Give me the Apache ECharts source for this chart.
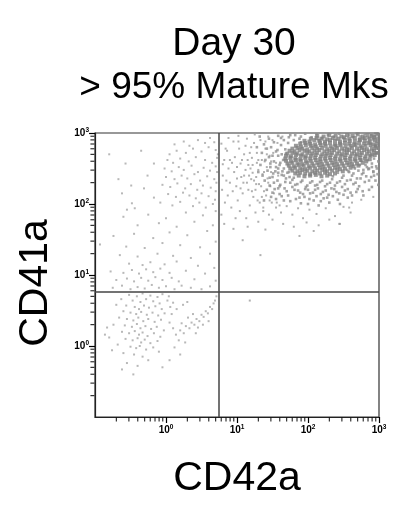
<!DOCTYPE html>
<html><head><meta charset="utf-8">
<script src="https://cdn.jsdelivr.net/npm/echarts@6/dist/echarts.min.js"></script>
<style>html,body{margin:0;padding:0;background:#fff}#c{width:394px;height:505px}</style>
</head><body><div id="c"></div>
<script>
const titleText = 'Day 30';
const subtitleText = '> 95% Mature Mks';
const xAxisName = 'CD42a';
const yAxisName = 'CD41a';
const labeledDecades = [0, 1, 2, 3];
const minorMultipliers = [2, 3, 4, 5, 6, 7, 8, 9];
const gateCD42a = 5.5;
const gateCD41a = 5.8;

// events as [log10 CD42a, log10 CD41a]
const lowLeftPts = [
[-0.52,0.72],[-0.41,0.70],[-0.33,0.74],[-0.22,0.71],[-0.12,0.69],[-0.05,0.73],[0.04,0.70],[-0.63,0.66],[-0.47,0.64],[-0.36,0.62],[-0.28,0.66],[-0.18,0.63],[-0.09,0.60],[0.02,0.64],[0.10,0.61],
[-0.70,0.58],[-0.56,0.57],[-0.44,0.55],[-0.38,0.52],[-0.31,0.57],[-0.24,0.54],[-0.15,0.56],[-0.06,0.52],[0.06,0.55],
[-0.60,0.49],[-0.50,0.47],[-0.42,0.45],[-0.35,0.48],[-0.27,0.44],[-0.19,0.47],[-0.11,0.43],[-0.02,0.46],
[-0.66,0.40],[-0.55,0.38],[-0.46,0.36],[-0.39,0.40],[-0.32,0.35],[-0.25,0.38],[-0.16,0.34],[-0.07,0.37],[0.05,0.33],
[-0.74,0.30],[-0.58,0.29],[-0.48,0.27],[-0.41,0.31],[-0.36,0.25],[-0.29,0.28],[-0.21,0.24],[-0.13,0.27],[-0.03,0.22],
[-0.62,0.20],[-0.52,0.18],[-0.44,0.21],[-0.38,0.16],[-0.33,0.19],[-0.26,0.14],[-0.17,0.18],[-0.08,0.13],
[-0.80,0.12],[-0.57,0.10],[-0.47,0.08],[-0.40,0.11],[-0.35,0.05],[-0.30,0.09],[-0.22,0.04],[-0.12,0.07],
[-0.68,0.02],[-0.50,-0.01],[-0.42,-0.03],[-0.37,0.00],[-0.28,-0.05],[-0.18,-0.02],
[-0.86,0.16],[-0.83,0.26],[-0.76,-0.06],[-0.60,-0.10],[-0.45,-0.12],[-0.33,-0.15],[-0.55,-0.24],[-0.40,-0.28],[-0.62,-0.33],[-0.46,-0.40],[-0.25,-0.20],[-0.10,-0.08],
[0.14,0.16],[0.20,0.22],[0.25,0.18],[0.28,0.28],[0.33,0.25],[0.36,0.33],[0.40,0.30],[0.43,0.38],[0.47,0.35],[0.50,0.44],[0.53,0.41],[0.56,0.49],[0.59,0.46],[0.62,0.55],[0.65,0.52],[0.67,0.60],[0.69,0.64],[0.71,0.70],
[0.31,0.40],[0.38,0.45],[0.45,0.26],[0.22,0.32],[0.18,0.08],[0.27,0.05],[0.42,0.18],[0.52,0.30],[0.60,0.35],[0.10,0.25],[0.08,0.45],[0.15,0.52],[0.24,0.58],[0.30,0.62],[0.12,-0.02],[0.20,-0.12],[0.05,-0.20],[-0.05,-0.30],
[-0.75,0.82],[-0.62,0.85],[-0.50,0.80],[-0.40,0.83],[-0.30,0.81],[-0.20,0.86],[-0.10,0.82],[0.00,0.84],[0.12,0.80],[0.22,0.85],[0.35,0.82],[0.50,0.80],[0.62,0.84],
[-0.70,0.93],[-0.55,0.95],[-0.45,0.91],[-0.35,0.96],[-0.25,0.92],[-0.15,0.97],[-0.05,0.93],[0.08,0.96],[0.18,0.91],[0.40,0.94],[0.70,0.92],
[-0.78,1.05],[-0.60,1.03],[-0.48,1.07],[-0.38,1.02],[-0.28,1.08],[-0.18,1.04],[-0.08,1.09],[0.05,1.03],[0.28,1.06],[0.55,1.02],
[-0.52,1.16],[-0.33,1.14],[-0.22,1.18],[-0.02,1.15],[0.15,1.19],[0.45,1.13],[0.68,1.10],
[-0.65,1.28],[-0.40,1.26],[-0.12,1.30],[0.10,1.27],[0.35,1.24],[0.62,1.30],
[-0.93,1.43],[-0.56,1.40],[-0.30,1.38],[-0.05,1.45],[0.20,1.42],[0.48,1.39],[0.70,1.47],
[-0.74,1.55],[-0.45,1.58],[-0.18,1.52],[0.05,1.60],[0.30,1.56],[0.58,1.62],
[-0.40,1.70],[-0.10,1.73],[0.15,1.68],[0.40,1.75],[0.66,1.70],
[-0.60,1.82],[-0.25,1.85],[0.00,1.80],[0.28,1.88],[0.52,1.84],[0.70,1.90]
];
const upLeftPts = [
[-0.67,2.35],[-0.57,2.57],[-0.17,2.57],[-0.49,2.26],[-0.26,2.40],[-0.31,2.22],[-0.17,2.09],[-0.48,2.01],[-0.55,1.92],[-0.44,1.94],[-0.80,2.70],[-0.62,2.15],[-0.35,2.75],
[0.05,2.70],[0.15,2.75],[0.28,2.72],[0.38,2.78],[0.50,2.74],[0.60,2.80],[0.70,2.76],
[0.02,2.62],[0.10,2.58],[0.20,2.64],[0.32,2.60],[0.42,2.66],[0.55,2.62],[0.65,2.58],[0.72,2.65],
[-0.02,2.50],[0.08,2.46],[0.18,2.52],[0.25,2.48],[0.36,2.54],[0.45,2.45],[0.53,2.51],[0.62,2.47],[0.70,2.53],
[0.00,2.38],[0.12,2.35],[0.22,2.40],[0.30,2.36],[0.40,2.42],[0.48,2.33],[0.58,2.39],[0.68,2.35],
[-0.05,2.27],[0.06,2.24],[0.16,2.29],[0.27,2.22],[0.35,2.28],[0.44,2.20],[0.52,2.26],[0.63,2.23],[0.71,2.30],
[0.03,2.14],[0.14,2.10],[0.24,2.16],[0.33,2.12],[0.42,2.08],[0.50,2.15],[0.60,2.11],[0.69,2.06],
[-0.08,2.02],[0.09,1.98],[0.20,2.03],[0.38,1.97],[0.47,2.02],[0.56,1.95],[0.66,2.00],
[0.25,2.88],[0.45,2.90],[0.62,2.93],[0.12,2.84],[0.55,2.86],[0.33,2.82],[0.68,2.87],[0.72,2.45],[0.70,2.18],[0.73,2.70]
];
const upRightSparsePts = [
[0.78,2.85],[0.82,2.62],[0.80,2.40],[0.79,2.20],[0.83,2.02],[0.78,1.85],[0.86,2.75],[0.88,2.50],[0.90,2.30],[0.87,2.12],[0.92,1.95],[0.95,2.88],[0.97,2.66],[0.96,2.45],[0.99,2.25],[1.01,2.05],[0.98,1.80],[1.03,2.78],[1.05,2.57],[1.06,2.38],[1.08,2.15],[1.04,1.90],[1.10,2.70],[1.12,2.48],[1.09,2.30],[0.80,2.56],[0.93,2.58],[1.00,2.52],[0.85,2.33],[0.94,2.18],
[1.14,2.92],[1.15,2.62],[1.17,2.40],[1.16,2.20],[1.18,1.98],[1.13,1.80],[1.20,2.80],[1.22,2.55],[1.24,2.33],[1.23,2.10],[1.26,1.88],[1.28,2.72],[1.30,2.48],[1.31,2.28],[1.29,2.05],[1.33,2.90],[1.35,2.62],[1.36,2.42],[1.38,2.18],[1.37,1.95],[1.40,2.78],[1.42,2.52],[1.43,2.36],[1.41,2.12],[1.45,1.85],[1.46,2.68],[1.48,2.45],[1.47,2.25],[1.49,2.02],[1.21,2.65],[1.27,2.38],[1.34,2.25],[1.39,2.60],[1.44,2.95],[1.25,2.98],[1.19,2.50],[1.32,2.02],
[1.50,2.90],[1.55,2.58],[1.58,2.40],[1.52,2.15],[1.56,2.02],[1.42,2.70],[1.38,2.45],[1.35,2.10],[1.44,2.30],[1.51,2.72],[1.57,2.86],[1.64,2.95],[1.40,2.88],[1.30,2.62],[1.26,2.20],[1.20,2.35],[1.48,2.60],[1.46,2.05],[1.60,1.98],[1.37,1.90],
[1.55,1.95],[1.62,1.88],[1.70,1.97],[1.78,1.85],[1.86,1.94],[1.93,1.80],[2.02,1.92],[2.12,1.86],[2.25,1.94],[2.38,1.83],[2.50,1.96],[2.62,2.02],[2.75,2.06],[2.92,2.10],[1.50,1.78],[1.65,1.72],[1.80,1.68],[1.98,1.74],[2.15,1.70],[2.30,1.78],[2.45,1.72],[1.30,1.75],[1.15,1.68],[0.95,1.65],[0.82,1.72],[1.40,1.64],[2.08,1.62],[2.60,1.88],
[1.02,2.88],[1.07,2.62],[1.12,2.82],[1.18,2.72],[1.24,2.86],[1.10,2.40],[1.16,2.55],[1.22,2.44],[1.28,2.58],[1.05,2.22],[1.14,2.30],[1.21,2.18],[1.27,2.28],[1.00,2.36],[0.90,2.62],[0.84,2.78],[1.02,2.96],[0.88,2.93],
[1.08,1.49],[1.33,1.28],[1.88,1.55],[2.44,1.72],[1.18,0.64],[2.58,1.95]
];
const upRightShellPts = [
[1.62,2.93],[1.75,2.97],[1.88,2.92],[1.96,2.99],[2.05,2.94],[2.12,2.98],[2.20,2.93],[2.28,2.97],[2.36,2.95],[2.44,2.99],[2.50,2.93],[2.58,2.97],[2.63,2.94],[2.69,2.99],[2.74,2.95],[2.80,2.98],[2.85,2.93],[2.89,2.97],[2.94,2.95],[2.98,2.99],[2.92,2.91],[2.97,2.88],[2.78,2.92],[2.40,2.91],[2.15,2.90],
[2.88,2.85],[2.95,2.82],[2.99,2.78],[2.91,2.75],[2.97,2.72],[2.87,2.68],[2.93,2.64],[2.99,2.60],[2.90,2.57],[2.96,2.53],[2.86,2.50],[2.92,2.46],[2.98,2.42],[2.89,2.38],[2.95,2.33],[2.99,2.27],[2.84,2.62],[2.81,2.55],[2.78,2.48],
[1.48,2.80],[1.55,2.74],[1.62,2.83],[1.68,2.77],[1.45,2.66],[1.52,2.60],[1.58,2.68],[1.65,2.62],[1.69,2.71],[1.47,2.52],[1.54,2.46],[1.60,2.55],[1.66,2.50],[1.71,2.44],[1.50,2.38],[1.57,2.33],[1.63,2.41],[1.69,2.36],[1.75,2.30],[1.46,2.26],[1.53,2.21],[1.61,2.27],[1.67,2.22],[1.74,2.38],[1.72,2.86],[1.80,2.90],[1.90,2.87],
[1.78,2.34],[1.85,2.28],[1.92,2.33],[1.99,2.26],[2.06,2.32],[2.13,2.27],[2.20,2.33],[2.27,2.28],[2.34,2.35],[2.41,2.30],[2.48,2.37],[2.55,2.33],[2.62,2.40],[2.69,2.36],[2.76,2.42],[2.82,2.39],[1.81,2.20],[1.89,2.16],[1.96,2.21],[2.03,2.15],[2.10,2.20],[2.18,2.14],[2.25,2.19],[2.33,2.22],[2.40,2.17],[2.48,2.24],[2.56,2.21],[2.64,2.28],[2.72,2.25],[2.80,2.31],[2.58,2.45],[2.66,2.50],[2.73,2.55],[2.75,2.61],[2.55,2.48],
[1.72,2.12],[1.83,2.07],[1.95,2.10],[2.08,2.05],[2.22,2.08],[2.35,2.11],[2.50,2.13],[2.68,2.17],[2.86,2.20],[1.60,2.14],[1.66,2.05],[2.00,2.00],[2.15,1.98],[2.30,2.02],
[1.58,2.44],[1.66,2.40],[1.73,2.45],[1.80,2.37],[2.35,2.39],[2.42,2.44],[2.50,2.40],[2.57,2.46],[2.64,2.43],[2.71,2.47],[2.78,2.44],[2.85,2.49],[2.92,2.45],[2.97,2.50],[2.90,2.52],[2.83,2.52],
[1.52,2.30],[1.60,2.25],[1.68,2.31],[1.82,2.27],[1.90,2.31],[1.97,2.24],[2.03,2.30],[2.10,2.26],[2.17,2.31],[2.24,2.25],[2.31,2.30],[2.38,2.26],[2.45,2.32],[2.52,2.28],[2.60,2.34],[2.67,2.30],[2.74,2.36],[2.86,2.33],[2.93,2.40],
[1.42,2.20],[1.50,2.16],[1.58,2.22],[1.70,2.18],[1.78,2.24],[1.86,2.19],[1.93,2.14],[2.00,2.20],[2.07,2.16],[2.14,2.22],[2.21,2.17],[2.29,2.13],[2.37,2.21],[2.44,2.15],[2.52,2.19],[2.60,2.16],[2.70,2.21],[2.77,2.18],[2.90,2.24],
[1.38,2.05],[1.48,2.10],[1.55,2.07],[1.63,2.11],[1.75,2.04],[1.88,2.09],[2.02,2.07],[2.12,2.11],[2.18,2.04],[2.27,2.09],[2.42,2.06],[2.56,2.09],[2.62,2.12],[2.78,2.12],[1.90,2.01],[2.45,2.00],
[1.32,2.95],[1.38,2.84],[1.45,2.92],[1.52,2.87],[1.58,2.96],[1.66,2.90],[1.73,2.94],[1.82,2.97],[1.90,2.95],[1.35,2.72],[1.42,2.78],[1.50,2.68],[1.57,2.76],[1.63,2.70],[1.33,2.55],[1.40,2.62],[1.47,2.57],[1.55,2.52],[1.61,2.58],[1.36,2.40],[1.43,2.47],[1.51,2.43],[1.58,2.50],[1.64,2.46],[1.39,2.33],[1.46,2.37],[1.30,2.45],[1.28,2.80]
];
const upRightCorePts = [
[2.13,2.96],[2.22,2.95],[2.30,2.97],[2.39,2.96],[2.47,2.95],[2.55,2.97],[2.63,2.96],[2.70,2.98],[2.77,2.95],[2.84,2.97],[2.90,2.96],[2.96,2.98],
[2.04,2.92],[2.12,2.93],[2.19,2.92],[2.27,2.91],[2.35,2.93],[2.43,2.92],[2.51,2.94],[2.58,2.92],[2.66,2.93],[2.73,2.91],[2.80,2.93],[2.87,2.92],[2.93,2.94],[2.98,2.92],
[1.95,2.89],[2.02,2.88],[2.09,2.90],[2.16,2.89],[2.24,2.88],[2.31,2.90],[2.38,2.89],[2.45,2.88],[2.52,2.90],[2.59,2.89],[2.66,2.88],[2.73,2.90],[2.80,2.89],[2.87,2.88],[2.94,2.90],
[1.89,2.85],[1.96,2.86],[2.03,2.85],[2.10,2.84],[2.17,2.86],[2.24,2.85],[2.31,2.86],[2.38,2.84],[2.45,2.85],[2.52,2.86],[2.58,2.85],[2.65,2.84],[2.72,2.86],[2.79,2.85],[2.85,2.86],[2.92,2.84],[2.97,2.85],
[1.83,2.82],[1.90,2.81],[1.97,2.83],[2.04,2.82],[2.11,2.81],[2.18,2.83],[2.25,2.82],[2.32,2.81],[2.39,2.82],[2.46,2.83],[2.53,2.81],[2.60,2.82],[2.67,2.83],[2.74,2.81],[2.81,2.82],[2.88,2.83],[2.95,2.81],
[1.78,2.78],[1.85,2.79],[1.92,2.78],[1.99,2.77],[2.06,2.79],[2.13,2.78],[2.20,2.79],[2.27,2.77],[2.34,2.78],[2.41,2.79],[2.48,2.78],[2.55,2.77],[2.62,2.79],[2.69,2.78],[2.76,2.79],[2.83,2.77],[2.90,2.78],[2.96,2.79],
[1.74,2.75],[1.81,2.74],[1.88,2.76],[1.95,2.75],[2.02,2.74],[2.09,2.75],[2.16,2.76],[2.23,2.74],[2.30,2.75],[2.37,2.76],[2.44,2.74],[2.51,2.75],[2.58,2.76],[2.65,2.74],[2.72,2.75],[2.79,2.76],[2.86,2.74],[2.93,2.75],
[1.71,2.71],[1.78,2.72],[1.85,2.71],[1.92,2.70],[1.99,2.72],[2.06,2.71],[2.13,2.72],[2.20,2.70],[2.27,2.71],[2.34,2.72],[2.41,2.71],[2.48,2.70],[2.55,2.72],[2.62,2.71],[2.69,2.70],[2.76,2.72],[2.83,2.71],[2.90,2.70],[2.96,2.72],
[1.69,2.68],[1.76,2.67],[1.83,2.69],[1.90,2.68],[1.97,2.67],[2.04,2.68],[2.11,2.69],[2.18,2.67],[2.25,2.68],[2.32,2.69],[2.39,2.67],[2.46,2.68],[2.53,2.69],[2.60,2.67],[2.67,2.68],[2.74,2.69],[2.81,2.67],[2.88,2.68],[2.94,2.69],
[1.68,2.64],[1.75,2.65],[1.82,2.64],[1.89,2.63],[1.96,2.65],[2.03,2.64],[2.10,2.65],[2.17,2.63],[2.24,2.64],[2.31,2.65],[2.38,2.64],[2.45,2.63],[2.52,2.65],[2.59,2.64],[2.66,2.63],[2.73,2.65],[2.80,2.64],[2.87,2.63],
[1.69,2.61],[1.76,2.60],[1.83,2.62],[1.90,2.61],[1.97,2.60],[2.04,2.61],[2.11,2.62],[2.18,2.60],[2.25,2.61],[2.32,2.62],[2.39,2.60],[2.46,2.61],[2.53,2.62],[2.60,2.60],[2.67,2.61],[2.74,2.62],[2.82,2.60],
[1.71,2.57],[1.78,2.58],[1.85,2.57],[1.92,2.56],[1.99,2.58],[2.06,2.57],[2.13,2.58],[2.20,2.56],[2.27,2.57],[2.34,2.58],[2.41,2.56],[2.48,2.57],[2.55,2.58],[2.62,2.56],[2.69,2.57],[2.77,2.58],
[1.73,2.54],[1.80,2.53],[1.87,2.55],[1.94,2.54],[2.01,2.53],[2.08,2.54],[2.15,2.55],[2.22,2.53],[2.29,2.54],[2.36,2.55],[2.43,2.53],[2.50,2.54],[2.57,2.55],[2.64,2.53],[2.71,2.54],
[1.75,2.50],[1.82,2.51],[1.89,2.50],[1.96,2.49],[2.03,2.51],[2.10,2.50],[2.17,2.51],[2.24,2.49],[2.31,2.50],[2.38,2.51],[2.45,2.49],[2.52,2.50],[2.60,2.51],
[1.78,2.47],[1.85,2.46],[1.92,2.48],[1.99,2.47],[2.06,2.46],[2.13,2.47],[2.20,2.48],[2.27,2.46],[2.34,2.47],[2.41,2.48],[2.49,2.46],
[1.82,2.43],[1.89,2.44],[1.96,2.43],[2.03,2.42],[2.10,2.44],[2.17,2.43],[2.24,2.44],[2.31,2.42],[2.38,2.43],
[1.87,2.40],[1.95,2.39],[2.03,2.40],[2.11,2.41],[2.19,2.39],[2.27,2.40]
];

const toLinear = pts => pts.map(p => [Math.pow(10, p[0]), Math.pow(10, p[1])]);
const minorTickValues = [];
[0.1, 1, 10, 100].forEach(d => minorMultipliers.forEach(m => minorTickValues.push(d * m)));
const FONT = '"Liberation Sans", Arial, sans-serif';

const chart = echarts.init(document.getElementById('c'), null, {renderer: 'canvas'});
const supLabel = {
  show: true, margin: 7, color: '#000',
  customValues: labeledDecades,
  formatter: v => '{b|10}{s|' + Math.round(v) + '}',
  rich: {
    b: {fontFamily: FONT, fontSize: 10, fontWeight: 'bold', color: '#000'},
    s: {fontFamily: FONT, fontSize: 6.5, fontWeight: 'bold', color: '#000', padding: [0, 0, 6, 0]}
  }
};
const hiddenLine = {show: false, onZero: false};
const scatterBase = {type: 'scatter', symbol: 'rect', silent: true, animation: false, xAxisIndex: 0, yAxisIndex: 0};
const minorTickMarks = (isX) => ({
  type: 'scatter', symbol: 'rect', silent: true, animation: false, clip: false, z: 10, xAxisIndex: 0, yAxisIndex: 0,
  data: minorTickValues.map(v => isX ? [v, 0.1] : [0.1, v]),
  symbolSize: isX ? [1.2, 4] : [4, 1.2],
  symbolOffset: isX ? [0, 2.6] : [-2.6, 0],
  itemStyle: {color: '#000'}
});
chart.setOption({
  animation: false,
  grid: {left: 95, top: 133, width: 284, height: 284, show: true, borderColor: '#333', borderWidth: 1.2, backgroundColor: '#fff'},
  graphic: [
    {type: 'text', x: 234, y: 44, style: {text: titleText, font: '39px ' + FONT, fill: '#000', textAlign: 'center', textVerticalAlign: 'middle'}},
    {type: 'text', x: 234, y: 88, style: {text: subtitleText, font: '37px ' + FONT, fill: '#000', textAlign: 'center', textVerticalAlign: 'middle'}},
    {type: 'text', x: 237, y: 479, style: {text: xAxisName, font: '41px ' + FONT, fill: '#000', textAlign: 'center', textVerticalAlign: 'middle'}},
    {type: 'text', x: 36, y: 283, rotation: Math.PI / 2, style: {text: yAxisName, font: '41px ' + FONT, fill: '#000', textAlign: 'center', textVerticalAlign: 'middle'}}
  ],
  xAxis: [
    {type: 'log', logBase: 10, min: 0.1, max: 1000, position: 'bottom', axisLine: {show: true, onZero: false, lineStyle: {color: '#222', width: 1.2}}, axisTick: {show: false}, axisLabel: {show: false}, splitLine: {show: false}},
    {type: 'value', min: -1, max: 3, interval: 1, position: 'bottom', axisLine: hiddenLine, axisTick: {show: true, length: 6, customValues: labeledDecades, lineStyle: {color: '#000', width: 1.2}}, axisLabel: supLabel, splitLine: {show: false}}
  ],
  yAxis: [
    {type: 'log', logBase: 10, min: 0.1, max: 1000, position: 'left', axisLine: {show: true, onZero: false, lineStyle: {color: '#222', width: 1.2}}, axisTick: {show: false}, axisLabel: {show: false}, splitLine: {show: false}},
    {type: 'value', min: -1, max: 3, interval: 1, position: 'left', axisLine: hiddenLine, axisTick: {show: true, length: 6, customValues: labeledDecades, lineStyle: {color: '#000', width: 1.2}}, axisLabel: Object.assign({}, supLabel, {margin: 6}), splitLine: {show: false}}
  ],
  series: [
    Object.assign({}, scatterBase, {data: toLinear(lowLeftPts.concat(upLeftPts)), symbolSize: 2, itemStyle: {color: '#a6a6a6'},
      markLine: {silent: true, symbol: 'none', animation: false, label: {show: false},
        lineStyle: {color: '#444', width: 1.5, type: 'solid'},
        data: [{xAxis: gateCD42a}, {yAxis: gateCD41a}]}}),
    Object.assign({}, scatterBase, {data: toLinear(upRightSparsePts), symbolSize: 2, itemStyle: {color: '#9c9c9c'}}),
    Object.assign({}, scatterBase, {data: toLinear(upRightShellPts), symbolSize: 2.6, itemStyle: {color: '#8f8f8f'}}),
    Object.assign({}, scatterBase, {data: toLinear(upRightCorePts), symbolSize: 4, itemStyle: {color: '#808080'}}),
    minorTickMarks(true),
    minorTickMarks(false)
  ]
});
</script></body></html>
